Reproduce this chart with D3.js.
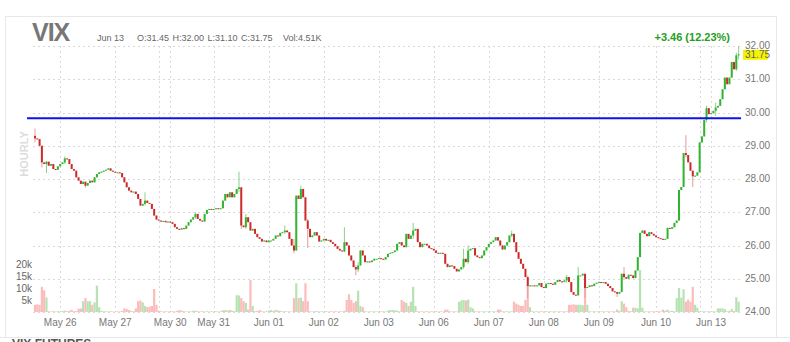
<!DOCTYPE html>
<html>
<head>
<meta charset="utf-8">
<script src="https://cdnjs.cloudflare.com/ajax/libs/d3/7.8.5/d3.min.js"></script>
<style>
body { margin: 0; background: #fff; }
svg { display: block; font-family: "Liberation Sans", Arial, sans-serif; }
</style>
</head>
<body>
<svg id="chart" width="790" height="342"></svg>
<script>
// header info
var symbol = 'VIX';
var quoteDate = 'Jun 13';
var quoteText = ['O:31.45', 'H:32.00', 'L:31.10', 'C:31.75'];
var quoteVol = 'Vol:4.51K';
var changeText = '+3.46 (12.23%)';
var lastPrice = 31.75;
var levelLine = 29.83;

// hourly closes (open = previous close)
var firstOpen = 29.30;
var closes = [
    29.22, 29.20, 29.00, 28.50, 28.45, 28.52, 28.40, 28.45, 28.30, 28.28, 28.38, 28.45,
    28.50, 28.62, 28.60, 28.45, 28.30, 28.25, 28.05, 27.95, 27.85, 27.92, 27.80, 27.88,
    27.95, 27.90, 28.05, 28.15, 28.20, 28.22, 28.25, 28.28, 28.32, 28.25, 28.22, 28.20,
    28.20, 28.18, 28.05, 27.90, 27.75, 27.65, 27.60, 27.62, 27.55, 27.40, 27.20, 27.25,
    27.35, 27.28, 27.25, 27.10, 26.90, 26.78, 26.75, 26.72, 26.74, 26.70, 26.72, 26.70,
    26.65, 26.55, 26.50, 26.48, 26.52, 26.50, 26.60, 26.70, 26.78, 26.85, 26.95, 26.80,
    26.75, 26.72, 26.95, 27.07, 27.10, 27.08, 27.10, 27.12, 27.10, 27.12, 27.35, 27.55,
    27.45, 27.60, 27.45, 27.55, 27.70, 27.75, 26.60, 26.55, 26.85, 26.70, 26.45, 26.50,
    26.35, 26.25, 26.20, 26.12, 26.15, 26.10, 26.15, 26.15, 26.20, 26.30, 26.28, 26.38,
    26.40, 26.45, 26.40, 26.20, 26.00, 25.85, 27.50, 27.40, 27.70, 27.45, 26.75, 26.50,
    26.25, 26.30, 26.40, 26.30, 26.12, 26.15, 26.20, 26.15, 26.17, 26.10, 26.05, 25.98,
    25.90, 25.85, 25.82, 26.10, 26.00, 25.70, 25.55, 25.35, 25.28, 25.40, 25.85, 25.70,
    25.50, 25.52, 25.50, 25.55, 25.60, 25.60, 25.62, 25.60, 25.58, 25.65, 25.75, 25.78,
    25.80, 25.85, 26.05, 26.10, 26.00, 25.95, 26.35, 26.20, 26.30, 26.45, 26.50, 26.10,
    25.95, 26.05, 26.05, 26.00, 25.92, 25.90, 25.85, 25.78, 25.77, 25.78, 25.75, 25.45,
    25.35, 25.40, 25.38, 25.30, 25.22, 25.28, 25.35, 25.60, 25.50, 25.85, 25.90, 25.92,
    25.70, 25.65, 25.62, 25.70, 25.85, 25.95, 26.05, 26.10, 26.15, 26.25, 26.15, 26.00,
    25.88, 26.00, 26.10, 26.30, 26.35, 26.10, 25.80, 25.60, 25.45, 25.30, 25.05, 24.78,
    24.80, 24.80, 24.78, 24.80, 24.87, 24.75, 24.72, 24.85, 24.87, 24.85, 24.82, 24.90,
    24.96, 24.92, 24.90, 24.95, 25.05, 24.90, 24.60, 24.52, 24.50, 25.10, 25.10, 25.15,
    24.72, 24.75, 24.80, 24.78, 24.85, 24.88, 24.90, 24.88, 24.90, 24.85, 24.78, 24.72,
    24.62, 24.60, 24.55, 24.60, 25.15, 25.05, 25.00, 25.12, 25.10, 25.02, 25.25, 25.65,
    26.38, 26.45, 26.35, 26.28, 26.40, 26.35, 26.30, 26.25, 26.22, 26.20, 26.17, 26.20,
    26.53, 26.50, 26.55, 26.68, 26.75, 27.67, 27.76, 28.78, 28.72, 28.50, 28.25, 28.08,
    28.10, 28.20, 29.10, 29.28, 29.78, 30.13, 29.95, 29.98, 30.05, 30.15, 30.20, 30.40,
    30.70, 31.05, 30.85, 31.05, 31.52, 31.30, 31.72, 31.75
];

// bars whose high/low reach beyond the body: [bar, high, low]
var wicks = [
    [0, 29.52, 29.10], [3, 29.00, 28.35], [5, 28.55, 28.18], [13, 28.68, 28.45],
    [22, 27.88, 27.74], [48, 27.60, 27.20], [70, 27.00, 26.80], [89, 28.22, 27.60],
    [90, 27.75, 26.50], [92, 26.95, 26.50], [109, 26.60, 26.35], [113, 26.20, 25.77],
    [116, 27.80, 27.40], [119, 26.80, 25.92], [135, 26.55, 25.80], [140, 25.40, 25.10],
    [141, 25.50, 25.20], [165, 26.68, 26.20], [187, 25.90, 25.30], [189, 26.00, 25.45],
    [208, 26.45, 26.25], [215, 25.10, 24.42], [232, 25.12, 24.88], [237, 25.35, 24.50],
    [240, 25.15, 24.42], [254, 24.60, 24.45], [257, 25.35, 25.00], [284, 29.32, 28.65],
    [287, 28.25, 27.76], [293, 30.20, 29.70], [297, 30.30, 29.90], [306, 31.80, 31.25],
    [307, 32.00, 31.60]
];

// volume in thousands
var volumes = [
    3.0, 3.2, 3.0, 10.5, 9.0, 6.0, 0.3, 0.2, 0.3, 0.2, 0.3, 0.2,
    0.4, 0.6, 0.3, 0.5, 0.9, 0.3, 0.4, 1.4, 1.5, 4.5, 5.8, 4.5,
    4.5, 3.0, 4.0, 11.0, 2.0, 0.5, 0.3, 0.3, 0.2, 0.3, 0.2, 0.2,
    0.3, 0.2, 0.4, 1.5, 1.3, 0.8, 0.4, 0.3, 1.5, 4.5, 4.8, 4.0,
    2.5, 2.0, 2.2, 2.5, 9.6, 3.0, 0.5, 0.3, 0.2, 0.3, 0.2, 0.3,
    0.3, 0.2, 0.5, 0.8, 0.6, 0.3, 0.2, 0.3, 0.2, 0.5, 0.6, 0.3,
    0.2, 0.3, 0.2, 0.3, 0.2, 0.3, 0.2, 0.3, 0.2, 0.3, 0.7, 0.8,
    0.6, 0.9, 0.5, 0.4, 7.0, 6.9, 5.8, 4.5, 3.8, 1.0, 13.3, 2.5,
    0.3, 0.5, 0.8, 0.3, 0.2, 0.3, 0.6, 0.8, 0.5, 0.9, 0.6, 0.5,
    0.3, 0.3, 0.2, 0.3, 0.2, 5.8, 12.0, 5.8, 6.0, 4.5, 12.0, 4.5,
    0.3, 0.2, 0.4, 0.3, 0.2, 0.3, 0.2, 0.3, 0.2, 0.3, 0.2, 0.3,
    0.2, 0.3, 0.2, 0.5, 5.0, 7.4, 5.0, 3.8, 4.5, 8.9, 2.5, 2.0,
    0.3, 0.2, 0.3, 0.2, 0.3, 0.2, 0.3, 0.2, 0.3, 0.2, 0.6, 0.8,
    0.9, 0.7, 0.6, 0.3, 5.0, 4.3, 3.8, 2.5, 4.3, 10.5, 2.5, 0.3,
    0.2, 0.3, 0.2, 0.3, 0.2, 0.3, 0.2, 0.3, 0.2, 0.3, 0.2, 1.0,
    1.0, 0.3, 0.2, 0.3, 0.2, 4.2, 4.8, 5.0, 4.8, 5.2, 2.0, 1.5,
    0.3, 0.2, 0.3, 0.2, 0.3, 0.2, 0.3, 0.2, 0.3, 0.2, 1.0, 1.0,
    0.3, 0.2, 0.3, 0.2, 0.3, 4.3, 3.5, 3.0, 2.5, 2.5, 5.0, 11.0,
    2.0, 0.3, 0.2, 0.3, 0.2, 0.3, 0.2, 0.3, 0.2, 0.3, 0.2, 0.3,
    0.2, 0.3, 0.2, 0.3, 0.3, 3.0, 3.0, 3.2, 3.0, 3.0, 3.0, 2.8,
    12.0, 3.0, 0.3, 0.2, 0.3, 0.2, 0.3, 0.2, 0.3, 0.2, 0.3, 0.2,
    0.3, 0.2, 1.0, 0.5, 4.5, 3.5, 2.0, 0.5, 0.3, 1.8, 1.8, 1.5,
    17.5, 1.8, 0.3, 0.2, 0.3, 0.2, 0.3, 0.2, 0.3, 0.2, 1.0, 0.5,
    1.0, 0.3, 0.5, 0.3, 5.8, 10.0, 6.0, 9.5, 4.3, 5.2, 4.3, 10.5,
    3.0, 1.8, 0.3, 0.2, 0.3, 0.2, 0.3, 0.2, 0.3, 0.2, 1.5, 1.5,
    1.5, 1.2, 0.3, 0.5, 1.2, 0.4, 6.2, 4.3
];

// day labels sit on the first bar of each session
var dayLabels = ['May 26', 'May 27', 'May 30', 'May 31', 'Jun 01', 'Jun 02', 'Jun 03',
                 'Jun 06', 'Jun 07', 'Jun 08', 'Jun 09', 'Jun 10', 'Jun 13'];
var dayBars = [11, 35, 59, 78, 102, 126, 150, 174, 198, 222, 246, 271, 295];
var weekBreakBars = [54, 290];

var priceTicks = [24, 25, 26, 27, 28, 29, 30, 31, 32];
var volTicks = [5, 10, 15, 20];

var svg = d3.select('#chart');
var grey = '#777';

var x = d3.scaleLinear().domain([0, closes.length - 1]).range([35, 738.6]);
var y = d3.scaleLinear().domain([24, 32]).range([312, 46]);
var yVol = d3.scaleLinear().domain([0, 20]).range([312, 264]);

var bars = closes.map(function (c, i) {
    var o = i === 0 ? firstOpen : closes[i - 1];
    return { i: i, o: o, c: c, h: Math.max(o, c), l: Math.min(o, c), v: volumes[i] };
});
wicks.forEach(function (w) {
    bars[w[0]].h = w[1];
    bars[w[0]].l = w[2];
});

// frame
svg.append('line').attr('x1', 5).attr('x2', 776).attr('y1', 16.5).attr('y2', 16.5).attr('stroke', '#e8e8e8');
svg.append('line').attr('x1', 5.5).attr('x2', 5.5).attr('y1', 16).attr('y2', 337).attr('stroke', '#e8e8e8');
svg.append('line').attr('x1', 776.5).attr('x2', 776.5).attr('y1', 16).attr('y2', 337).attr('stroke', '#e8e8e8');
svg.append('line').attr('x1', 0).attr('x2', 790).attr('y1', 337.5).attr('y2', 337.5).attr('stroke', '#e8e8e8');
svg.append('text').attr('x', 12).attr('y', 348).attr('font-size', 12).attr('font-weight', 'bold')
    .attr('fill', '#555').text('VIX FUTURES');

// grid
var grid = svg.append('g').attr('stroke', '#d9d9d9').attr('stroke-dasharray', '2,3');
grid.selectAll('line.h').data(priceTicks).enter().append('line')
    .attr('x1', 33).attr('x2', 741)
    .attr('y1', function (d) { return Math.round(y(d)) + 0.5; })
    .attr('y2', function (d) { return Math.round(y(d)) + 0.5; });
grid.selectAll('line.v').data(dayBars.concat(weekBreakBars)).enter().append('line')
    .attr('x1', function (d) { return Math.round(x(d)) + 0.5; })
    .attr('x2', function (d) { return Math.round(x(d)) + 0.5; })
    .attr('y1', y(32)).attr('y2', 312);

// price axis
svg.selectAll('text.py').data(priceTicks).enter().append('text')
    .attr('x', 745).attr('y', function (d) { return y(d) + 3; })
    .attr('font-size', 10).attr('fill', grey)
    .text(function (d) { return d3.format('.2f')(d); });

// volume axis
svg.selectAll('text.vy').data(volTicks).enter().append('text')
    .attr('x', 32).attr('y', function (d) { return yVol(d) + 3.5; })
    .attr('text-anchor', 'end').attr('font-size', 10).attr('fill', '#666')
    .text(function (d) { return d + 'k'; });

// day axis
svg.selectAll('text.dx').data(dayLabels).enter().append('text')
    .attr('x', function (d, i) { return x(dayBars[i]); }).attr('y', 326)
    .attr('text-anchor', 'middle').attr('font-size', 10).attr('fill', grey)
    .text(function (d) { return d; });

// volume bars
svg.append('g').selectAll('rect').data(bars).enter().append('rect')
    .attr('x', function (d) { return x(d.i) - 1.1; })
    .attr('width', 2.2)
    .attr('y', function (d) { return yVol(d.v); })
    .attr('height', function (d) { return 312 - yVol(d.v); })
    .attr('fill', function (d) { return d.c >= d.o ? '#b7e3b3' : '#fbbcbc'; });

// candles
var candles = svg.append('g');
candles.selectAll('line').data(bars).enter().append('line')
    .attr('x1', function (d) { return x(d.i); })
    .attr('x2', function (d) { return x(d.i); })
    .attr('y1', function (d) { return y(d.h); })
    .attr('y2', function (d) { return y(d.l); })
    .attr('stroke', function (d) { return d.c >= d.o ? '#8fcf8c' : '#e49c9c'; })
    .attr('stroke-width', 1);
candles.selectAll('rect').data(bars).enter().append('rect')
    .attr('x', function (d) { return x(d.i) - 1; })
    .attr('width', 2)
    .attr('y', function (d) { return y(Math.max(d.o, d.c)); })
    .attr('height', function (d) { return Math.max(1, Math.abs(y(d.o) - y(d.c))); })
    .attr('fill', function (d) { return d.c >= d.o ? '#2fb52f' : '#cc2b2b'; });

// level line
svg.append('line').attr('x1', 27).attr('x2', 741)
    .attr('y1', y(levelLine)).attr('y2', y(levelLine))
    .attr('stroke', '#1010ee').attr('stroke-width', 2);

// last price tag
svg.append('rect').attr('x', 743).attr('y', y(lastPrice) - 4.5).attr('width', 25).attr('height', 10)
    .attr('fill', '#f4f400');
svg.append('text').attr('x', 745).attr('y', y(lastPrice) + 3.5)
    .attr('font-size', 10).attr('fill', '#666').text(d3.format('.2f')(lastPrice));

// header
svg.append('text').attr('x', 32).attr('y', 41).attr('font-size', 25).attr('font-weight', 'bold')
    .attr('fill', grey).attr('letter-spacing', -1).text(symbol);
svg.append('text').attr('x', 97).attr('y', 41).attr('font-size', 9).attr('fill', '#666').text(quoteDate);
svg.append('text').attr('x', 137).attr('y', 41).attr('font-size', 9).attr('fill', '#666')
    .attr('word-spacing', 1).text(quoteText.join(' '));
svg.append('text').attr('x', 283).attr('y', 41).attr('font-size', 9).attr('fill', '#666').text(quoteVol);
svg.append('text').attr('x', 730).attr('y', 41).attr('text-anchor', 'end').attr('font-size', 11)
    .attr('font-weight', 'bold').attr('fill', '#23a023').text(changeText);

// side tag
svg.append('text').attr('transform', 'translate(28,154) rotate(-90)')
    .attr('text-anchor', 'middle').attr('font-size', 11).attr('font-weight', 'bold')
    .attr('fill', '#dcdcdc').text('HOURLY');
</script>
</body>
</html>
